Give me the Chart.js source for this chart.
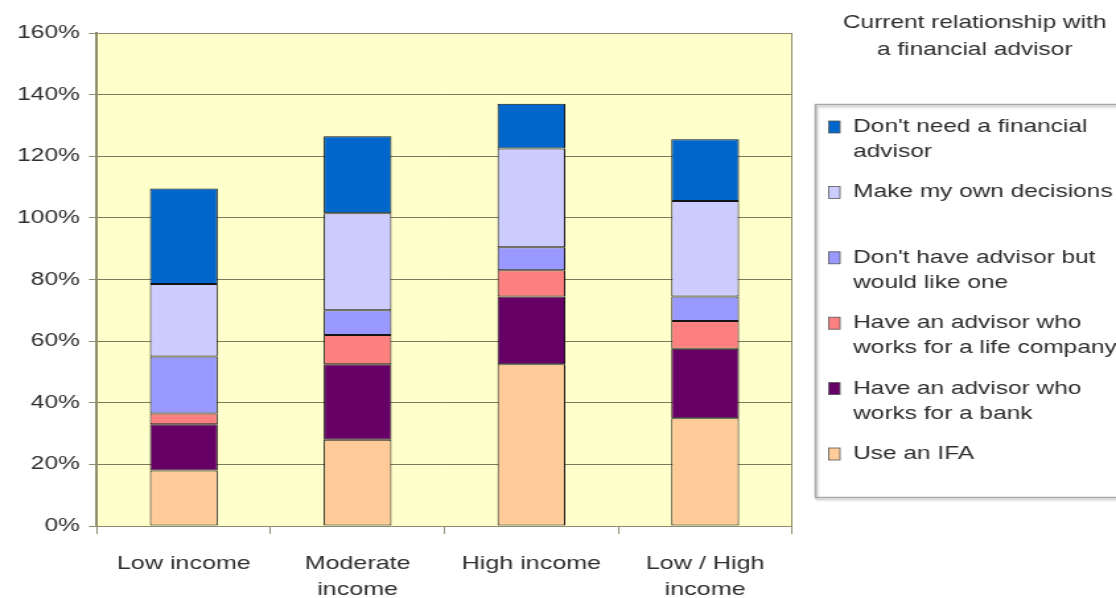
<!DOCTYPE html>
<html>
<head>
<meta charset="utf-8">
<title>Current relationship with a financial advisor</title>
<script src="https://cdn.jsdelivr.net/npm/chart.js@4/dist/chart.umd.min.js"></script>
<style>
  html, body { margin: 0; padding: 0; background: #ffffff; overflow: hidden; }
  #wrap {
    position: absolute; left: 0; top: 0;
    width: 845px; height: 598px;
    transform: scaleX(1.3207); transform-origin: 0 0;
  }
  canvas { display: block; }
</style>
</head>
<body>
<div id="wrap"><canvas id="chart" width="845" height="598"></canvas></div>
<script>
// Income groups along the x axis
const categories = ['Low income', ['Moderate', 'income'], 'High income', ['Low / High', 'income']];

// Share of respondents (%) per answer, stacked bottom to top
const useIFA        = [18,   28,   52.5, 35];
const advisorBank   = [15,   24.5, 22,   22.5];
const advisorLife   = [3.5,  9.5,  8.5,  9];
const wouldLikeOne  = [18.5, 8,    7.5,  8];
const ownDecisions  = [23.5, 31.5, 32,   31];
const dontNeed      = [31,   25,   14.5, 20];

// Legend wording, split the way it wraps in the legend box
const seriesLines = [
  ['Use an IFA'],
  ['Have an advisor who', 'works for a bank'],
  ['Have an advisor who', 'works for a life company'],
  ["Don't have advisor but", 'would like one'],
  ['Make my own decisions'],
  ["Don't need a financial", 'advisor']
];
const seriesValues = [useIFA, advisorBank, advisorLife, wouldLikeOne, ownDecisions, dontNeed];
const seriesColors = ['#FFCC99', '#660066', '#FF8080', '#9999FF', '#CCCCFF', '#0066CC'];

const yTicks = [0, 20, 40, 60, 80, 100, 120, 140, 160];
const legendTitle = ['Current relationship with', 'a financial advisor'];

const FONT = "'Liberation Sans', Arial, sans-serif";
const TEXT = '#2e2e2e';

// Pale yellow plot area with a thin frame
const plotBackground = {
  id: 'plotBackground',
  beforeDraw(chart) {
    const { ctx, chartArea: a } = chart;
    ctx.save();
    ctx.fillStyle = '#FFFFCC';
    ctx.fillRect(a.left, a.top, a.right - a.left, a.bottom - a.top);
    ctx.restore();
  },
  beforeDatasetsDraw(chart) {
    const { ctx, chartArea: a } = chart;
    ctx.save();
    ctx.strokeStyle = '#8c8c6c';
    ctx.lineWidth = 1;
    ctx.strokeRect(Math.round(a.left) + 0.5, Math.round(a.top) + 0.5,
                   Math.round(a.right - a.left), Math.round(a.bottom - a.top));
    ctx.restore();
  }
};

// Legend box on the right, top entry = top of the stack
const sideLegend = {
  id: 'sideLegend',
  afterDraw(chart) {
    const { ctx } = chart;
    ctx.save();
    ctx.font = '18.5px ' + FONT;
    ctx.fillStyle = TEXT;
    ctx.textBaseline = 'middle';
    ctx.textAlign = 'center';
    ctx.fillText(legendTitle[0], 738, 23);
    ctx.fillText(legendTitle[1], 738, 50);

    // frame with a soft drop shadow
    ctx.strokeStyle = '#a8a8a8';
    ctx.lineWidth = 1.5;
    ctx.shadowColor = 'rgba(0,0,0,0.25)';
    ctx.shadowOffsetX = 1;
    ctx.shadowOffsetY = 2;
    ctx.shadowBlur = 2;
    ctx.strokeRect(617.5, 104.5, 240, 393);
    ctx.shadowColor = 'transparent';

    ctx.textAlign = 'left';
    const ds = chart.data.datasets;
    for (let k = 0; k < ds.length; k++) {
      const i = ds.length - 1 - k;
      const y = 127 + k * 65.4;
      ctx.fillStyle = ds[i].backgroundColor;
      ctx.fillRect(627.5, y - 6, 8.5, 12);
      ctx.strokeStyle = '#555555';
      ctx.lineWidth = 0.8;
      ctx.strokeRect(627.5, y - 6, 8.5, 12);
      ctx.fillStyle = TEXT;
      seriesLines[i].forEach((line, j) => ctx.fillText(line, 646, y + j * 25));
    }
    ctx.restore();
  }
};

const datasets = seriesValues.map((vals, i) => ({
  label: seriesLines[i].join(' '),
  data: vals,
  backgroundColor: seriesColors[i],
  borderColor: '#141414',
  borderWidth: 1,
  borderSkipped: false,
  barPercentage: 0.39,
  categoryPercentage: 1
}));

new Chart(document.getElementById('chart'), {
  type: 'bar',
  data: { labels: categories, datasets },
  plugins: [plotBackground, sideLegend],
  options: {
    responsive: false,
    animation: false,
    devicePixelRatio: 1,
    layout: { padding: { top: 33, right: 245.3, bottom: 0, left: 0 } },
    plugins: { legend: { display: false }, tooltip: { enabled: false }, title: { display: false } },
    scales: {
      x: {
        stacked: true,
        afterFit(scale) { scale.height = 72; },
        grid: { offset: true, drawOnChartArea: false, drawTicks: true, tickLength: 8, tickColor: '#8c8c6c' },
        border: { display: true, color: '#8c8c6c', width: 1 },
        ticks: {
          color: TEXT,
          padding: 17,
          maxRotation: 0,
          autoSkip: false,
          font: { family: FONT, size: 19, lineHeight: 1.37 }
        }
      },
      y: {
        stacked: true,
        min: yTicks[0],
        max: yTicks[yTicks.length - 1],
        afterFit(scale) { scale.width = 73.4; },
        afterBuildTicks(scale) { scale.ticks = yTicks.map(v => ({ value: v })); },
        grid: { color: '#7a7a5c', lineWidth: 1, drawTicks: true, tickLength: 6, tickColor: '#8c8c6c' },
        border: { display: true, color: '#8c8c6c', width: 2 },
        ticks: {
          color: TEXT,
          padding: 7,
          font: { family: FONT, size: 18.5 },
          callback: v => v + '%'
        }
      }
    }
  }
});
</script>
</body>
</html>
